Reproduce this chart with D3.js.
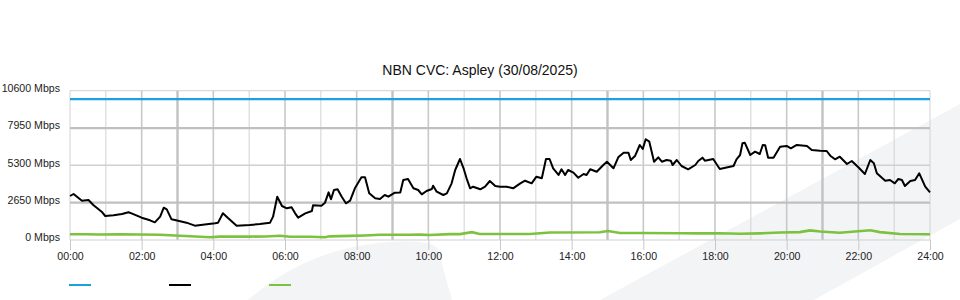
<!DOCTYPE html>
<html>
<head>
<meta charset="utf-8">
<script src="https://cdn.jsdelivr.net/npm/d3@7"></script>
<style>
	body { margin: 0; background: #fff; }
	svg { display: block; font-family: "Liberation Sans", Arial, sans-serif; }
	.tick-label { font-size: 10.6px; fill: #222; }
	#title { font-size: 14px; fill: #111; }
</style>
</head>
<body>
<div id="graph"><svg width="960" height="300"></svg></div>
<script>
const w = 960;
const h = 300;

// minutes since midnight
const downTimes = [0, 6, 20, 31, 39, 53, 59, 73, 87, 98, 103, 120, 134, 142, 151, 157, 162, 170, 181, 195, 209, 229, 243,
	248, 256, 265, 279, 301, 318, 335, 340, 347, 355, 363, 371, 377, 382, 394, 405, 407, 421, 427, 433, 437, 442, 448, 455,
	462, 469, 477, 488, 494, 501, 511, 519, 527, 533, 544, 553, 558, 566, 575, 583, 589, 597, 606, 608, 614, 625, 631, 639,
	645, 653, 659, 664, 670, 675, 687, 695, 703, 712, 720, 731, 742, 754, 762, 773, 781, 790, 797, 803, 809, 818, 823, 829,
	834, 843, 851, 860, 865, 871, 882, 893, 899, 910, 918, 927, 935, 939, 946, 954, 959, 964, 970, 978, 985, 991, 999, 1006,
	1009, 1016, 1024, 1035, 1047, 1052, 1059, 1063, 1077, 1088, 1105, 1111, 1116, 1122, 1126, 1130, 1139, 1147, 1155, 1160,
	1164, 1169, 1178, 1189, 1200, 1207, 1217, 1234, 1242, 1256, 1267, 1273, 1281, 1289, 1301, 1309, 1320, 1331, 1340, 1346,
	1351, 1365, 1373, 1381, 1387, 1393, 1398, 1407, 1415, 1422, 1432, 1440];
const downValues = [3124, 3266, 2790, 2840, 2485, 2010, 1704, 1750, 1846, 1966, 1894, 1585, 1397, 1254, 1656, 2296, 2178,
	1468, 1373, 1231, 1018, 1113, 1183, 1231, 1900, 1540, 1018, 1065, 1136, 1231, 1656, 3076, 2414, 2250, 2320, 1894, 1585,
	1894, 2060, 2465, 2438, 2650, 3384, 2890, 3550, 3600, 3076, 2604, 2790, 3670, 4450, 4450, 3315, 2960, 2910, 3195, 3076,
	3360, 3380, 4260, 4330, 3670, 3550, 3244, 3480, 3620, 3855, 3430, 3195, 3315, 4025, 4970, 5750, 5090, 4380, 3670, 3785,
	3600, 3785, 4190, 3834, 3785, 3785, 3670, 4025, 4210, 4025, 4494, 4380, 5750, 5750, 5090, 4615, 5020, 4615, 4970, 4780,
	4423, 4686, 4615, 5020, 4850, 5325, 5560, 5090, 5870, 6200, 6200, 5680, 5960, 6745, 6460, 7150, 6980, 5560, 5870, 5560,
	5680, 5630, 5325, 5680, 5254, 5020, 5325, 5610, 5845, 5630, 5750, 5041, 5200, 5254, 5730, 6035, 6865, 6900, 6035, 6270,
	6105, 6745, 6720, 5845, 5845, 6625, 6675, 6510, 6745, 6675, 6390, 6340, 6320, 5985, 5730, 5915, 5396, 5610, 5160, 4686,
	5680, 5445, 4735, 4210, 4260, 4025, 4330, 4260, 3834, 4190, 4260, 4735, 3785, 3384];

const upTimes = [0, 25, 50, 84, 117, 151, 184, 218, 234, 251, 301, 327, 352, 368, 385, 402, 427, 435, 469, 494, 519, 569,
	586, 603, 636, 653, 673, 686, 720, 770, 804, 887, 901, 921, 954, 1021, 1055, 1088, 1122, 1155, 1189, 1222, 1239, 1256,
	1289, 1340, 1356, 1390, 1440];
const upValues = [405, 410, 390, 410, 395, 370, 300, 230, 200, 240, 240, 250, 300, 230, 230, 230, 200, 260, 290, 320, 370,
	370, 380, 360, 420, 420, 560, 430, 430, 430, 530, 550, 640, 500, 500, 480, 470, 480, 440, 470, 530, 560, 680, 600, 520,
	690, 560, 430, 405];

const capTimes = [0, 1440];
const capValues = [10000, 10000];

const yTicks = [0, 2650, 5300, 7950, 10600];
const xTicks = [0, 120, 240, 360, 480, 600, 720, 840, 960, 1080, 1200, 1320, 1440];
const seriesColors = ['#1ba1e2', '#000000', '#7cc23f'];

const svg = d3.select('svg');

const xScale = d3.scaleLinear().domain([0, 1440]).range([70, 930]);
const yScale = d3.scaleLinear().domain([0, 10600]).range([240, 90.7]);

// background watermark
svg.append('path')
	.attr('d', 'M600,300 L960,104 L960,219 L814,300 Z')
	.attr('fill', '#f3f4f6');
svg.append('path')
	.attr('d', 'M248,300 C285,268 330,246 390,242 C425,240 436,244 438,250 L452,300 Z')
	.attr('fill', '#f3f4f6');

// vertical grid, every hour
const hours = d3.range(0, 25);
svg.append('g')
	.selectAll('line')
	.data(hours)
	.enter()
	.append('line')
	.attr('x1', d => xScale(d * 60))
	.attr('x2', d => xScale(d * 60))
	.attr('y1', yScale(10600))
	.attr('y2', yScale(0))
	.attr('stroke', d => (d % 6 === 3 ? '#c2c2c2' : d % 2 === 0 && d % 24 ? '#c8c8c8' : '#d2d2d2'))
	.attr('stroke-width', d => (d % 6 === 3 ? 2.4 : d % 2 === 0 && d % 24 ? 1.6 : 1));

// horizontal grid
svg.append('g')
	.selectAll('line')
	.data(yTicks)
	.enter()
	.append('line')
	.attr('x1', 70)
	.attr('x2', 930)
	.attr('y1', d => yScale(d))
	.attr('y2', d => yScale(d))
	.attr('stroke', (d, i) => (i % 2 === 1 ? '#c0c0c0' : '#d0d0d0'))
	.attr('stroke-width', (d, i) => (i === 1 || i === 3 ? 2.2 : i === 2 ? 1.5 : 1));

// axes
const yAxis = d3.axisLeft(yScale)
	.tickValues(yTicks)
	.tickSize(0)
	.tickPadding(10)
	.tickFormat(v => v + ' Mbps');

svg.append('g')
	.attr('id', 'y-axis')
	.attr('transform', 'translate(70, -2.5)')
	.call(yAxis)
	.call(g => g.select('.domain').remove())
	.selectAll('text')
	.attr('class', 'tick-label')
	.attr('font-family', null)
	.attr('font-size', null);

const xAxis = d3.axisBottom(xScale)
	.tickValues(xTicks)
	.tickSize(10)
	.tickPadding(2)
	.tickFormat(v => String(v / 60).padStart(2, '0') + ':00');

svg.append('g')
	.attr('id', 'x-axis')
	.attr('transform', 'translate(0, 240)')
	.call(xAxis)
	.call(g => g.select('.domain').remove())
	.call(g => g.selectAll('.tick line').attr('stroke', '#c8c8c8'))
	.selectAll('text')
	.attr('class', 'tick-label')
	.attr('font-family', null)
	.attr('font-size', null);

svg.append('text')
	.attr('id', 'title')
	.attr('x', 480)
	.attr('y', 74.5)
	.attr('text-anchor', 'middle')
	.text('NBN CVC: Aspley (30/08/2025)');

// series
const line = d3.line()
	.x(d => xScale(d[0]))
	.y(d => yScale(d[1]));

const series = [
	d3.zip(capTimes, capValues),
	d3.zip(downTimes, downValues),
	d3.zip(upTimes, upValues)
];

svg.append('path')
	.datum(series[2])
	.attr('fill', 'none')
	.attr('stroke', seriesColors[2])
	.attr('stroke-width', 2.6)
	.attr('d', line);

svg.append('path')
	.datum(series[1])
	.attr('fill', 'none')
	.attr('stroke', seriesColors[1])
	.attr('stroke-width', 2)
	.attr('stroke-linejoin', 'round')
	.attr('d', line);

svg.append('path')
	.datum(series[0])
	.attr('fill', 'none')
	.attr('stroke', seriesColors[0])
	.attr('stroke-width', 2.2)
	.attr('d', line);

// legend (keys only, no labels in the original)
seriesColors.forEach((c, i) => {
	svg.append('line')
		.attr('x1', 69 + i * 100)
		.attr('x2', 91 + i * 100)
		.attr('y1', 285)
		.attr('y2', 285)
		.attr('stroke', c)
		.attr('stroke-width', 2);
});
</script>
</body>
</html>
